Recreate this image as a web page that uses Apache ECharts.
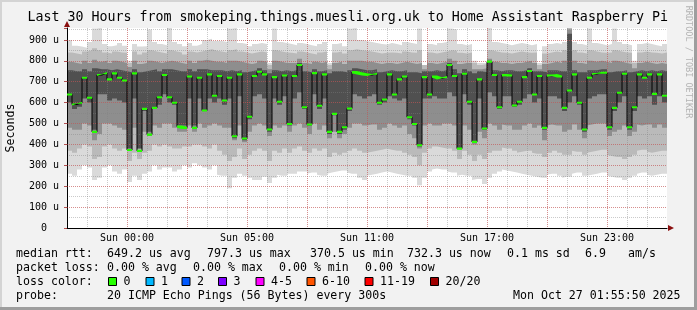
<!DOCTYPE html>
<html><head><meta charset="utf-8">
<script src="https://cdn.jsdelivr.net/npm/echarts@6/dist/echarts.min.js"></script>
<style>html,body{margin:0;padding:0;background:#f2f2f2}#c{width:697px;height:310px}</style>
</head><body><div id="c"></div>
<script>
// x axis: minutes relative to Sun 00:00 (local), 30 hours shown, 15-minute bins
const tickTimes = [0, 360, 720, 1080, 1440];
const tickLabels = ['Sun 00:00', 'Sun 05:00', 'Sun 11:00', 'Sun 17:00', 'Sun 23:00'];

// median rtt (microseconds)
const median = [
 639,591,599,719,623,460,732,741,711,740,719,706,373,740,369,570,447,575,626,732,626,599,485,479,725,479,719,562,735,633,
 727,610,719,439,735,428,532,727,748,735,471,722,604,730,498,727,780,578,495,741,585,735,460,546,460,482,572,746,740,735,
 732,738,599,615,735,639,711,725,530,498,396,722,639,725,716,722,780,727,380,738,604,412,711,476,796,732,578,732,730,586,
 604,722,751,639,727,479,729,732,725,575,658,735,599,471,719,737,743,743,482,575,647,738,482,578,735,719,735,642,735,633];

// smoke: outermost band (min .. max of pings)
const smokeMax = [
 900,872,868,862,890,955,960,880,870,875,885,872,800,880,868,870,950,890,880,875,958,890,880,870,885,872,880,900,905,895,
 895,890,955,958,885,880,870,880,885,880,790,955,890,885,880,875,885,880,875,870,880,890,790,880,885,870,955,960,900,895,
 890,885,880,878,885,880,875,890,885,880,955,780,880,875,885,890,955,950,880,875,880,800,790,790,958,890,885,880,875,880,
 885,880,875,880,790,870,880,885,880,890,960,890,880,875,955,885,880,875,880,955,890,880,875,800,880,885,880,875,870,880];
const smokeMin = [
 260,250,280,300,290,230,240,290,300,270,260,280,220,250,230,260,270,300,280,290,290,270,280,300,290,310,300,290,280,300,
 255,250,190,240,260,250,240,230,230,245,215,240,255,250,260,260,270,270,260,265,255,250,260,265,270,275,265,260,240,230,
 250,255,260,265,270,265,260,255,250,240,205,240,270,280,285,280,270,265,250,255,250,230,235,210,240,260,270,280,275,270,
 265,260,255,250,245,240,255,260,250,240,245,260,265,250,250,255,260,265,250,245,240,230,240,250,260,265,255,250,255,260];
// second band
const band2Hi = [
 840,835,830,845,850,860,850,840,835,845,840,838,790,845,830,840,850,845,840,835,850,845,840,830,845,840,845,850,855,848,
 845,840,850,855,845,840,835,840,845,840,780,850,845,840,838,835,845,840,835,830,840,845,780,840,845,835,850,855,850,848,
 845,840,835,838,840,838,835,845,840,838,850,780,840,835,840,845,850,848,838,835,840,790,780,785,850,845,840,838,835,840,
 845,840,838,840,780,835,840,845,840,850,960,850,840,835,850,845,840,838,840,850,845,840,838,790,840,845,840,838,835,840];
const band2Lo = [
 370,360,380,400,390,330,340,390,400,380,370,380,320,360,330,360,370,400,390,400,390,380,380,390,390,400,400,390,380,400,
 370,350,320,340,380,330,350,370,380,370,320,370,360,380,360,380,390,370,360,380,370,380,340,360,350,360,370,380,370,360,
 360,365,370,375,380,375,370,360,350,340,300,360,380,390,390,385,380,370,330,370,350,320,350,330,360,370,370,385,380,370,
 360,365,370,360,355,340,360,370,360,350,350,370,365,350,360,365,370,375,350,345,340,330,340,350,370,375,365,360,365,370];
// third band
const band3Hi = [
 795,790,785,800,790,805,795,800,790,800,795,790,770,800,785,790,800,795,790,795,800,795,790,785,800,790,800,805,800,795,
 795,790,800,800,795,790,785,790,800,795,760,800,795,790,790,790,810,790,785,795,790,795,760,790,795,785,800,800,800,795,
 795,790,785,790,790,785,790,795,790,785,790,760,790,785,790,795,810,800,785,790,790,760,760,765,810,795,790,790,785,790,
 790,795,800,790,760,785,790,795,790,800,950,800,790,785,800,795,800,795,790,800,795,790,785,765,790,795,790,785,790,785];
const band3Lo = [
 480,470,470,500,490,420,450,500,500,490,480,470,380,480,380,460,440,490,480,500,500,480,460,460,490,460,500,480,490,500,
 490,480,480,420,490,410,460,490,500,490,440,490,480,490,460,490,500,480,450,500,470,490,430,460,430,450,480,500,500,490,
 490,495,470,480,500,490,480,490,450,430,380,490,500,490,490,500,500,490,380,490,470,400,460,430,500,490,470,495,490,470,
 470,490,500,480,490,420,490,495,490,460,470,495,470,430,490,495,500,500,440,460,470,490,440,460,495,490,495,480,495,480];
// innermost band
const band4Hi = [
 755,750,750,760,750,765,760,760,755,760,755,750,745,760,745,750,755,760,750,760,760,755,750,750,760,750,760,760,755,755,
 755,750,755,750,755,745,750,755,765,755,740,755,750,755,750,755,790,750,745,760,750,755,740,750,750,745,755,765,760,755,
 755,760,745,750,755,750,750,755,745,745,740,750,750,755,750,755,790,760,740,760,750,740,750,745,800,755,750,755,755,750,
 750,755,765,750,750,745,755,755,750,750,930,755,745,745,755,755,760,760,745,750,750,755,745,750,755,750,755,750,755,750];
const band4Lo = [
 600,570,580,620,600,470,640,640,610,620,610,600,380,620,380,560,460,570,590,640,600,590,490,490,620,490,620,560,620,600,
 620,590,620,430,630,420,520,630,640,620,460,620,590,630,490,620,650,570,490,640,570,620,450,540,450,470,560,640,630,620,
 630,640,590,600,630,620,610,620,520,490,390,620,620,630,620,620,650,630,380,640,590,410,620,470,650,630,570,630,630,580,
 590,620,640,600,620,470,630,630,620,560,600,630,590,460,620,630,640,640,470,560,600,630,470,560,630,620,630,590,630,600];

const lossLabels = ['0', '1', '2', '3', '4-5', '6-10', '11-19', '20/20'];
const lossColors = ['#26ff00', '#00b8ff', '#0059ff', '#7e00ff', '#ff00ff', '#ff5500', '#ff0000', '#a00000'];

const statsLines = [
  [[16, 'median rtt:'], [107, '649.2 us avg'], [207, '797.3 us max'], [310, '370.5 us min'], [407, '732.3 us now'], [507, '0.1 ms sd'], [585, '6.9'], [628, 'am/s']],
  [[16, 'packet loss:'], [107, '0.00 % avg'], [193, '0.00 % max'], [279, '0.00 % min'], [365, '0.00 % now']],
  [[16, 'loss color:']],
  [[16, 'probe:'], [107, '20 ICMP Echo Pings (56 Bytes) every 300s'], [513, 'Mon Oct 27 01:55:50 2025']]
];

const MONO = '"DejaVu Sans Mono", monospace';
const YMAX = 957;

// step series: each value holds for its bin; repeat last value to close final bin
const ext = a => a.concat([a[a.length - 1]]);
const cats = ext(median).map((_, i) => String(i));
const diff = (hi, lo) => hi.map((v, i) => v - lo[i]);

function band(lo, hi, color, key) {
  return [
    { type: 'line', stack: key, data: ext(lo), step: 'end', symbol: 'none', lineStyle: { width: 0 }, silent: true, z: 1 },
    { type: 'line', stack: key, data: ext(diff(hi, lo)), step: 'end', symbol: 'none', lineStyle: { width: 0 },
      areaStyle: { color: color, opacity: 1 }, silent: true, z: 1 }
  ];
}

const series = [].concat(
  band(smokeMin, smokeMax, '#dadada', 'b1'),
  band(band2Lo, band2Hi, '#bababa', 'b2'),
  band(band3Lo, band3Hi, '#8e8e8e', 'b3'),
  band(band4Lo, band4Hi, '#505050', 'b4'),
  [
    { type: 'line', data: ext(median), step: 'end', symbol: 'none', lineStyle: { color: '#000', width: 1 }, silent: true, z: 5 },
    { type: 'line', stack: 'g', data: ext(median.map(v => v - 5)), step: 'end', symbol: 'none', lineStyle: { width: 0 }, silent: true, z: 6 },
    { type: 'line', stack: 'g', data: ext(median.map(() => 10)), step: 'end', symbol: 'none', lineStyle: { width: 0 },
      areaStyle: { color: lossColors[0], opacity: 1 }, silent: true, z: 6 }
  ]
);

const minorGrid = { color: 'rgba(128,128,128,0.42)', type: [1, 1], width: 1 };
const majorGrid = { color: 'rgba(230,60,60,0.42)', type: [1, 1], width: 1 };

const legendChildren = [];
statsLines.forEach((line, r) => {
  const y = 254 + r * 14;
  line.forEach(([x, t]) => legendChildren.push({
    type: 'text', x: x, y: y,
    style: { text: t, font: '11.6px ' + MONO, fill: '#000', verticalAlign: 'middle', textVerticalAlign: 'middle' }
  }));
});
const boxX = [108.5, 146, 182, 218.5, 256, 307, 365, 430.5];
lossLabels.forEach((lab, i) => {
  legendChildren.push({ type: 'rect', shape: { x: boxX[i], y: 277.5, width: 8, height: 8 },
    style: { fill: lossColors[i], stroke: '#000', lineWidth: 1 } });
  legendChildren.push({ type: 'text', x: boxX[i] + 15, y: 282,
    style: { text: lab, font: '11.6px ' + MONO, fill: '#000', verticalAlign: 'middle', textVerticalAlign: 'middle' } });
});

const chart = echarts.init(document.getElementById('c'), null, { renderer: 'canvas' });
chart.setOption({
  animation: false,
  backgroundColor: '#f2f2f2',
  title: {
    text: 'Last 30 Hours from smokeping.things.muesli.org.uk to Home Assistant Raspberry Pi',
    left: 27.5, top: 11, padding: 0,
    textStyle: { fontFamily: MONO, fontSize: 13.3, fontWeight: 'normal', color: '#000' }
  },
  grid: { left: 67, top: 28, width: 600, height: 200, show: true, backgroundColor: '#ffffff', borderWidth: 0,
    containLabel: false, outerBoundsMode: 'none' },
  xAxis: [
    { type: 'category', data: cats, boundaryGap: false, position: 'bottom', z: 3,
      axisLine: { show: true, onZero: false, lineStyle: { color: '#000', width: 1 } },
      axisTick: { show: false }, axisLabel: { show: false }, splitLine: { show: false } },
    { type: 'value', min: -180, max: 1620, interval: 60, position: 'bottom', z: 3,
      axisLine: { show: false }, axisTick: { show: false },
      axisLabel: { show: true, margin: 5, color: '#000', fontFamily: MONO, fontSize: 10,
        formatter: v => { const k = tickTimes.indexOf(v); return k >= 0 ? tickLabels[k] : ''; } },
      splitLine: { show: true, lineStyle: minorGrid, showMinLine: false, showMaxLine: false } },
    { type: 'value', min: -180, max: 1620, interval: 180, position: 'bottom', z: 4,
      axisLine: { show: true, onZero: false, symbol: ['none', 'triangle'], symbolSize: [6, 6], symbolOffset: [0, 4],
        lineStyle: { color: '#8b1010', width: 0 } },
      axisTick: { show: false }, axisLabel: { show: false },
      splitLine: { show: true, lineStyle: majorGrid, showMinLine: false, showMaxLine: false } }
  ],
  yAxis: [
    { type: 'value', min: 0, max: YMAX, interval: 50, position: 'left', z: 3,
      axisLine: { show: true, onZero: false, lineStyle: { color: '#000', width: 1 } },
      axisTick: { show: false }, axisLabel: { show: false },
      splitLine: { show: true, lineStyle: minorGrid, showMinLine: false, showMaxLine: false } },
    { type: 'value', min: 0, max: YMAX, interval: 100, position: 'left', z: 4,
      name: 'Seconds', nameLocation: 'middle', nameGap: 50,
      nameTextStyle: { fontFamily: MONO, fontSize: 11.6, color: '#000' },
      axisLine: { show: true, onZero: false, symbol: ['none', 'triangle'], symbolSize: [6, 6], symbolOffset: [0, 4],
        lineStyle: { color: '#8b1010', width: 0 } },
      axisTick: { show: true, length: 3, lineStyle: { color: 'rgba(160,40,40,0.8)' } },
      axisLabel: { show: true, margin: 8, color: '#000', fontFamily: MONO, fontSize: 10,
        formatter: v => (v % 100 === 0 ? (v === 0 ? '0\u00a0\u00a0' : v + ' u') : '') },
      splitLine: { show: true, lineStyle: majorGrid, showMinLine: false, showMaxLine: false } }
  ],
  series: series.map(s => Object.assign({ xAxisIndex: 0, yAxisIndex: 0 }, s)),
  graphic: [
    { type: 'rect', left: 0, top: 0, shape: { width: 697, height: 2 }, style: { fill: '#d4d4d4' }, silent: true },
    { type: 'rect', left: 0, top: 0, shape: { width: 2, height: 310 }, style: { fill: '#d4d4d4' }, silent: true },
    { type: 'rect', right: 0, top: 0, shape: { width: 3, height: 310 }, style: { fill: '#9e9e9e' }, silent: true },
    { type: 'rect', left: 0, bottom: 0, shape: { width: 697, height: 3 }, style: { fill: '#9e9e9e' }, silent: true },
    { type: 'text', x: 688, y: 62, rotation: -Math.PI / 2,
      style: { text: 'RRDTOOL / TOBI OETIKER', font: '8.5px ' + MONO, fill: '#b4b4b4', align: 'center', verticalAlign: 'middle',
        textAlign: 'center', textVerticalAlign: 'middle' }, silent: true },
    { type: 'group', x: 0, y: 0, children: legendChildren, silent: true }
  ]
});
</script>
</body></html>
